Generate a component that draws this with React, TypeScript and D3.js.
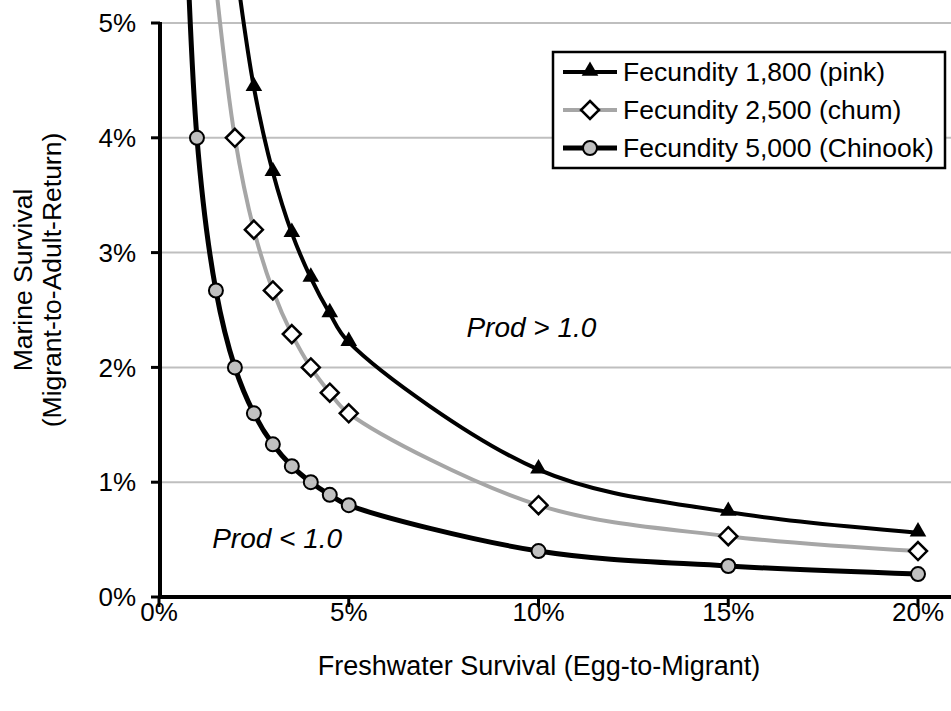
import React, { useEffect } from "react";
import * as d3 from "d3";

// freshwater survival (%) and marine survival (%)
const pinkFW = [2, 2.5, 3, 3.5, 4, 4.5, 5, 10, 15, 20];
const pinkMS = [5.56, 4.44, 3.7, 3.17, 2.78, 2.47, 2.22, 1.11, 0.74, 0.56];

const chumFW = [1.5, 2, 2.5, 3, 3.5, 4, 4.5, 5, 10, 15, 20];
const chumMS = [5.33, 4.0, 3.2, 2.67, 2.29, 2.0, 1.78, 1.6, 0.8, 0.53, 0.4];

const chinookFW = [0.5, 1, 1.5, 2, 2.5, 3, 3.5, 4, 4.5, 5, 10, 15, 20];
const chinookMS = [8, 4, 2.67, 2, 1.6, 1.33, 1.14, 1.0, 0.89, 0.8, 0.4, 0.27, 0.2];

const xTicks = [0, 5, 10, 15, 20];
const yTicks = [0, 1, 2, 3, 4, 5];

const seriesNames = [
  "Fecundity 1,800 (pink)",
  "Fecundity 2,500 (chum)",
  "Fecundity 5,000 (Chinook)",
];

type Pt = [number, number];

const W = 951;
const H = 711;
const FONT = "'Liberation Sans', Arial, sans-serif";

const x = d3.scaleLinear().domain([0, 20]).range([159, 918]);
const y = d3.scaleLinear().domain([0, 5]).range([597, 23]);

const zip = (a: number[], b: number[]): Pt[] => a.map((v, i) => [v, b[i]]);

const series = [
  { name: seriesNames[0], pts: zip(pinkFW, pinkMS), color: "#000", width: 4, marker: "tri" },
  { name: seriesNames[1], pts: zip(chumFW, chumMS), color: "#a6a6a6", width: 4, marker: "dia" },
  { name: seriesNames[2], pts: zip(chinookFW, chinookMS), color: "#000", width: 5, marker: "circ" },
];

const line = d3
  .line<Pt>()
  .x((d) => x(d[0]))
  .y((d) => y(d[1]))
  .curve(d3.curveCatmullRom.alpha(0.5));

const Marker = ({ kind, cx, cy }: { kind: string; cx: number; cy: number }) => {
  if (kind === "tri") {
    const p = d3.symbol(d3.symbolTriangle, 120)();
    return <path d={p!} transform={`translate(${cx},${cy - 1})`} fill="#000" />;
  }
  if (kind === "dia") {
    const r = 9;
    return (
      <path
        d={`M${cx},${cy - r}L${cx + r},${cy}L${cx},${cy + r}L${cx - r},${cy}Z`}
        fill="#fff"
        stroke="#000"
        strokeWidth={2.5}
      />
    );
  }
  return <circle cx={cx} cy={cy} r={7} fill="#c0c0c0" stroke="#000" strokeWidth={2} />;
};

export default function App() {
  useEffect(() => {
    document.body.style.margin = "0";
  }, []);

  const legendRows = [72, 110, 148];

  return (
    <svg width={W} height={H} style={{ display: "block", background: "#fff" }} fontFamily={FONT}>
      <defs>
        <clipPath id="plot">
          <rect x={159} y={0} width={W - 159} height={597} />
        </clipPath>
      </defs>

      {/* gridlines */}
      {yTicks.slice(1).map((t) => (
        <line key={t} x1={160} x2={W} y1={y(t)} y2={y(t)} stroke="#bfbfbf" strokeWidth={2} />
      ))}

      {/* series */}
      <g clipPath="url(#plot)">
        {series.map((s) => (
          <path key={s.name} d={line(s.pts)!} fill="none" stroke={s.color} strokeWidth={s.width} />
        ))}
        {series.map((s) =>
          s.pts
            .filter((p) => p[1] <= 5)
            .map((p, i) => <Marker key={s.name + i} kind={s.marker} cx={x(p[0])} cy={y(p[1])} />)
        )}
      </g>

      {/* axes */}
      <line x1={160} x2={160} y1={22} y2={599} stroke="#000" strokeWidth={4} />
      <line x1={158} x2={W} y1={597} y2={597} stroke="#000" strokeWidth={4} />
      {yTicks.map((t) => (
        <g key={t}>
          <line x1={151} x2={160} y1={y(t)} y2={y(t)} stroke="#000" strokeWidth={3} />
          <text x={136} y={y(t)} dy="0.35em" textAnchor="end" fontSize={26}>
            {t}%
          </text>
        </g>
      ))}
      {xTicks.map((t) => (
        <g key={t}>
          <line x1={x(t)} x2={x(t)} y1={597} y2={607} stroke="#000" strokeWidth={3} />
          <text x={x(t)} y={621} textAnchor="middle" fontSize={26}>
            {t}%
          </text>
        </g>
      ))}

      {/* axis titles */}
      <text x={539} y={675} textAnchor="middle" fontSize={27}>
        Freshwater Survival (Egg-to-Migrant)
      </text>
      <g transform="translate(0,280) rotate(-90)">
        <text x={0} y={32} textAnchor="middle" fontSize={26.5}>
          Marine Survival
        </text>
        <text x={0} y={61} textAnchor="middle" fontSize={26.5}>
          (Migrant-to-Adult-Return)
        </text>
      </g>

      {/* annotations */}
      <text x={x(8.1)} y={y(2.265)} fontSize={28} fontStyle="italic">
        Prod &gt; 1.0
      </text>
      <text x={x(1.4)} y={y(0.427)} fontSize={28} fontStyle="italic">
        Prod &lt; 1.0
      </text>

      {/* legend */}
      <rect x={553} y={52} width={392} height={116} fill="#fff" stroke="#000" strokeWidth={2.5} />
      {series.map((s, i) => (
        <g key={s.name}>
          <line x1={563} x2={617} y1={legendRows[i]} y2={legendRows[i]} stroke={s.color} strokeWidth={s.width} />
          <Marker kind={s.marker} cx={590} cy={legendRows[i]} />
          <text x={623} y={legendRows[i]} dy="0.35em" fontSize={26.5}>
            {s.name}
          </text>
        </g>
      ))}
    </svg>
  );
}
